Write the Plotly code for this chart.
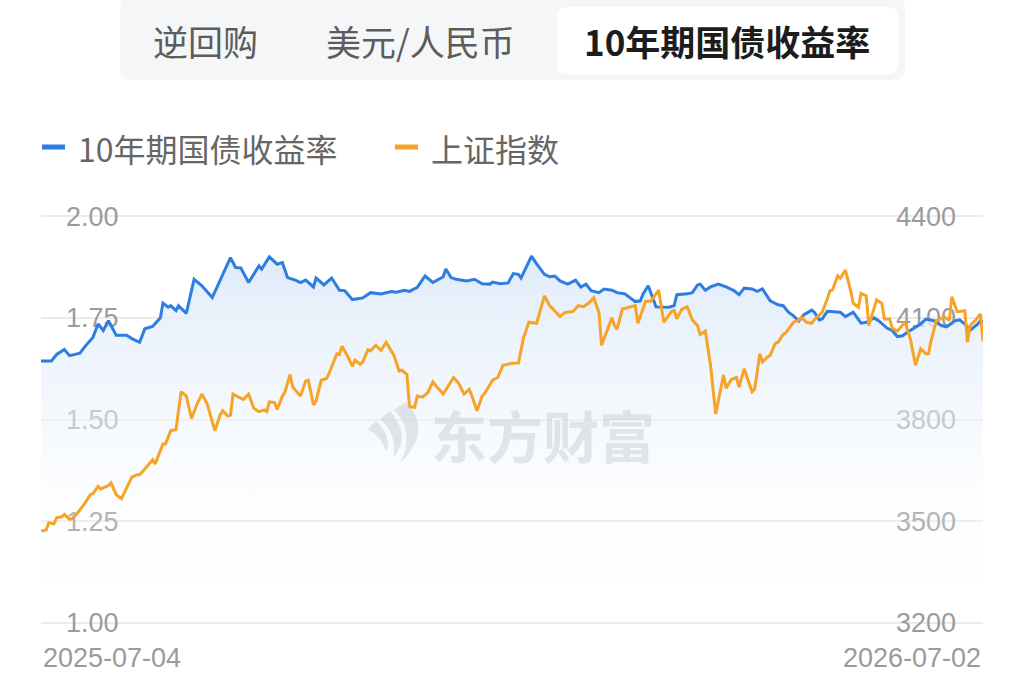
import pandas as pd
import plotly.graph_objects as go

start_date = pd.Timestamp("2025-07-04")

# 10年期国债收益率 (%), left axis; x = days after start_date
bond_days = [0, 4, 6, 9, 11, 15, 17, 20, 22, 24,
             26, 29, 33, 35, 38, 40, 43, 46, 47, 49,
             50, 52, 53, 56, 59, 62, 66, 70, 73, 75,
             77, 80, 84, 85, 88, 91, 93, 95, 98, 100,
             102, 105, 106, 109, 112, 115, 117, 120, 124, 127,
             131, 135, 137, 140, 142, 145, 148, 151, 155, 156,
             158, 160, 164, 167, 170, 173, 174, 177, 180, 182,
             184, 185, 187, 189, 191, 194, 196, 198, 200, 203,
             206, 208, 210, 212, 215, 217, 220, 222, 225, 229,
             231, 232, 234, 236, 237, 242, 244, 245, 249, 251,
             253, 254, 256, 258, 261, 264, 267, 269, 271, 274,
             276, 278, 281, 284, 286, 288, 290, 292, 294, 297,
             298, 300, 301, 303, 308, 310, 313, 316, 318, 321,
             323, 326, 328, 330, 332, 334, 336, 339, 341, 344,
             347, 349, 352, 354, 356, 358, 361, 362, 363]
bond_yield = [1.644, 1.644, 1.660, 1.672, 1.657, 1.663, 1.680, 1.702, 1.735, 1.719,
              1.743, 1.707, 1.707, 1.699, 1.690, 1.723, 1.729, 1.750, 1.786, 1.776,
              1.780, 1.768, 1.780, 1.761, 1.845, 1.829, 1.800, 1.857, 1.898, 1.874,
              1.873, 1.837, 1.878, 1.870, 1.900, 1.882, 1.886, 1.849, 1.843, 1.837,
              1.843, 1.826, 1.848, 1.831, 1.848, 1.818, 1.817, 1.795, 1.799, 1.812,
              1.809, 1.815, 1.813, 1.818, 1.815, 1.825, 1.853, 1.837, 1.851, 1.870,
              1.849, 1.845, 1.841, 1.845, 1.834, 1.833, 1.838, 1.834, 1.836, 1.859,
              1.857, 1.848, 1.874, 1.902, 1.883, 1.857, 1.851, 1.853, 1.841, 1.833,
              1.843, 1.826, 1.833, 1.817, 1.812, 1.821, 1.818, 1.812, 1.809, 1.790,
              1.792, 1.809, 1.829, 1.792, 1.777, 1.776, 1.780, 1.807, 1.809, 1.812,
              1.831, 1.833, 1.818, 1.826, 1.833, 1.826, 1.817, 1.807, 1.823, 1.821,
              1.815, 1.821, 1.792, 1.782, 1.780, 1.764, 1.755, 1.742, 1.758, 1.769,
              1.764, 1.745, 1.747, 1.766, 1.764, 1.753, 1.764, 1.737, 1.739, 1.750,
              1.742, 1.725, 1.719, 1.704, 1.706, 1.715, 1.723, 1.735, 1.747, 1.743,
              1.731, 1.728, 1.742, 1.745, 1.735, 1.719, 1.735, 1.743, 1.740]

# 上证指数, right axis
sh_days = [0, 2, 3, 5, 6, 8, 9, 11, 12, 14,
           17, 19, 20, 22, 23, 26, 27, 29, 31, 33,
           35, 37, 38, 40, 43, 44, 47, 48, 50, 52,
           54, 56, 58, 60, 62, 64, 67, 69, 70, 72,
           73, 74, 76, 78, 80, 82, 84, 86, 87, 88,
           90, 91, 93, 94, 96, 97, 98, 100, 102, 103,
           105, 106, 108, 110, 111, 114, 115, 116, 118, 120,
           121, 123, 124, 126, 127, 129, 131, 133, 136, 138,
           139, 141, 142, 144, 145, 147, 149, 151, 153, 155,
           159, 161, 163, 165, 166, 168, 170, 171, 174, 176,
           178, 181, 184, 186, 188, 191, 194, 196, 200, 202,
           205, 207, 209, 211, 213, 215, 216, 220, 221, 222,
           224, 229, 230, 233, 235, 238, 240, 243, 244, 245,
           247, 249, 251, 253, 254, 256, 258, 260, 263, 264,
           266, 268, 269, 271, 274, 275, 277, 278, 280, 281,
           283, 284, 286, 287, 289, 290, 292, 293, 295, 297,
           298, 300, 301, 303, 304, 305, 307, 308, 310, 312,
           313, 315, 316, 318, 319, 320, 322, 324, 325, 327,
           328, 330, 332, 333, 335, 337, 339, 341, 342, 343,
           345, 346, 348, 350, 351, 353, 354, 356, 357, 358,
           360, 362, 363]
sh_index = [3471, 3474, 3495, 3492, 3510, 3513, 3520, 3505, 3507, 3523,
            3554, 3578, 3581, 3603, 3595, 3605, 3613, 3578, 3566, 3598,
            3630, 3637, 3637, 3654, 3681, 3669, 3728, 3728, 3767, 3770,
            3882, 3869, 3803, 3843, 3875, 3847, 3767, 3813, 3826, 3810,
            3813, 3875, 3867, 3859, 3875, 3833, 3823, 3828, 3823, 3852,
            3850, 3830, 3869, 3881, 3933, 3896, 3887, 3869, 3914, 3916,
            3843, 3855, 3916, 3921, 3936, 3994, 3992, 4016, 3989, 3957,
            3975, 3963, 3970, 4006, 4003, 4019, 4004, 4028, 3989, 3943,
            3946, 3933, 3838, 3836, 3869, 3866, 3879, 3911, 3892, 3875,
            3924, 3906, 3875, 3889, 3871, 3826, 3869, 3877, 3916, 3924,
            3960, 3965, 3967, 4043, 4087, 4084, 4165, 4136, 4104, 4116,
            4119, 4136, 4133, 4143, 4159, 4116, 4019, 4100, 4077, 4067,
            4126, 4136, 4084, 4149, 4149, 4182, 4087, 4119, 4122, 4097,
            4126, 4133, 4094, 4077, 4051, 4061, 3960, 3816, 3931, 3892,
            3918, 3924, 3896, 3950, 3882, 3889, 3994, 3970, 3985, 3990,
            4025, 4028, 4051, 4056, 4077, 4087, 4094, 4102, 4087, 4084,
            4094, 4109, 4116, 4156, 4180, 4182, 4224, 4217, 4241, 4180,
            4143, 4131, 4172, 4165, 4077, 4102, 4153, 4143, 4097, 4097,
            4070, 4061, 4077, 4087, 4038, 3960, 4009, 3994, 3994, 4033,
            4092, 4094, 4104, 4092, 4162, 4119, 4119, 4121, 4028, 4077,
            4092, 4112, 4031]

tab_names = ["逆回购", "美元/人民币", "10年期国债收益率"]
legend_names = ["10年期国债收益率", "上证指数"]
yield_ticks = [1.00, 1.25, 1.50, 1.75, 2.00]
index_ticks = [3200, 3500, 3800, 4100, 4400]

BLUE = "#2e7de1"
ORANGE = "#f6a326"
AXIS_TXT = "#9b9b9b"
CJK = "Noto Sans CJK SC"

W, H = 1024, 686
ML, MR, MT, MB = 41, 41, 215, 62
PW, PH = W - ML - MR, H - MT - MB


def to_paper(x, y):
    # screen pixel -> paper coords, for the decoration around the plot
    return (x - ML) / PW, (H - MB - y) / PH


def pt(x, y):
    px_, py_ = to_paper(x, y)
    return f"{px_:.5f},{py_:.5f}"


def round_rect(x0, y0, x1, y1, r):
    return (f"M{pt(x0 + r, y0)} L{pt(x1 - r, y0)} Q{pt(x1, y0)} {pt(x1, y0 + r)} "
            f"L{pt(x1, y1 - r)} Q{pt(x1, y1)} {pt(x1 - r, y1)} L{pt(x0 + r, y1)} "
            f"Q{pt(x0, y1)} {pt(x0, y1 - r)} L{pt(x0, y0 + r)} Q{pt(x0, y0)} {pt(x0 + r, y0)} Z")


bond_x = start_date + pd.to_timedelta(bond_days, unit="D")
sh_x = start_date + pd.to_timedelta(sh_days, unit="D")

fig = go.Figure()
fig.add_trace(go.Scatter(
    x=bond_x, y=bond_yield, name=legend_names[0], mode="lines",
    line=dict(color=BLUE, width=3),
    fill="tozeroy",
    fillgradient=dict(type="vertical", start=1.0, stop=1.9,
                      colorscale=[[0, "rgba(255,255,255,0)"], [1, "rgba(222,234,249,0.95)"]]),
))
fig.add_trace(go.Scatter(
    x=sh_x, y=sh_index, name=legend_names[1], mode="lines", yaxis="y2",
    line=dict(color=ORANGE, width=3),
))

tick_font = dict(family="Liberation Sans, Arial", size=27, color=AXIS_TXT)

shapes = []
annotations = []

# tab bar on top
shapes.append(dict(type="path", xref="paper", yref="paper", layer="below",
                   path=round_rect(120, -4, 905, 80, 12),
                   fillcolor="#f5f6f8", line=dict(width=0)))
shapes.append(dict(type="path", xref="paper", yref="paper", layer="below",
                   path=round_rect(557, 7, 898, 74, 10),
                   fillcolor="white", line=dict(width=0)))
tab_centers = [205, 420, 727]
for i, (name, cx) in enumerate(zip(tab_names, tab_centers)):
    x, y = to_paper(cx, 41)
    selected = i == len(tab_names) - 1
    annotations.append(dict(
        x=x, y=y, xref="paper", yref="paper", showarrow=False,
        text=f"<b>{name}</b>" if selected else name,
        font=dict(family=CJK, size=35, color="#1c1c1c" if selected else "#5c5c5c"),
        xanchor="center", yanchor="middle"))

# legend
for name, color, x0 in zip(legend_names, [BLUE, ORANGE], [42, 395]):
    a = to_paper(x0, 147)
    b = to_paper(x0 + 23, 147)
    shapes.append(dict(type="line", xref="paper", yref="paper", x0=a[0], y0=a[1], x1=b[0], y1=b[1],
                       line=dict(color=color, width=5)))
    t = to_paper(x0 + 34, 148)
    annotations.append(dict(x=t[0], y=t[1], xref="paper", yref="paper", showarrow=False,
                            text=name, xanchor="left", yanchor="middle",
                            font=dict(family=CJK, size=32, color="#666666")))

# watermark
wm = "rgba(200,205,215,0.5)"
for path in [
    f"M{pt(406, 402)} Q{pt(433, 430)} {pt(401, 462)} Q{pt(415, 430)} {pt(394, 410)} Z",
    f"M{pt(390, 411)} Q{pt(412, 436)} {pt(393, 458)} Q{pt(398, 435)} {pt(380, 419)} Z",
    f"M{pt(376, 421)} Q{pt(393, 438)} {pt(386, 452)} Q{pt(383, 438)} {pt(368, 429)} Z",
]:
    shapes.append(dict(type="path", xref="paper", yref="paper", layer="above",
                       path=path, fillcolor=wm, line=dict(width=0)))
w = to_paper(543, 433)
annotations.append(dict(x=w[0], y=w[1], xref="paper", yref="paper", showarrow=False,
                        text="<b>东方财富</b>", xanchor="center", yanchor="middle",
                        font=dict(family=CJK, size=56, color=wm)))

# first / last date under the axis
for d, xa, anchor in [(bond_x[0], 0, "left"), (bond_x[-1], 1, "right")]:
    annotations.append(dict(x=xa, y=to_paper(0, 658)[1], xref="paper", yref="paper",
                            showarrow=False, text=d.strftime("%Y-%m-%d"),
                            xanchor=anchor, yanchor="middle",
                            font=dict(family="Liberation Sans, Arial", size=27, color=AXIS_TXT)))

# a hair of padding so the 1.00 / 2.00 grid lines are kept
pad_l = 0.003
pad_r = pad_l * (index_ticks[-1] - index_ticks[0]) / (yield_ticks[-1] - yield_ticks[0])

fig.update_layout(
    width=W, height=H,
    margin=dict(l=ML, r=MR, t=MT, b=MB),
    paper_bgcolor="white", plot_bgcolor="white",
    showlegend=False,
    font=dict(family=CJK),
    xaxis=dict(type="date", range=[bond_x[0], bond_x[-1]], showgrid=False,
               showticklabels=False, ticks="", zeroline=False, showline=False),
    yaxis=dict(range=[yield_ticks[0] - pad_l, yield_ticks[-1] + pad_l], tickvals=yield_ticks,
               tickformat=".2f", showgrid=True, gridcolor="#ebebeb", gridwidth=1.5,
               zeroline=False, showline=False, ticks="", ticklabelposition="inside",
               ticklabelstandoff=22, ticklabeloverflow="allow",
               tickfont=tick_font, layer="below traces"),
    yaxis2=dict(range=[index_ticks[0] - pad_r, index_ticks[-1] + pad_r], tickvals=index_ticks,
                tickformat="d", overlaying="y", side="right", showgrid=False, zeroline=False,
                showline=False, ticks="", ticklabelposition="inside", ticklabelstandoff=24,
                ticklabeloverflow="allow", tickfont=tick_font, layer="below traces"),
    shapes=shapes,
    annotations=annotations,
)

# the page's default 8px body margin would shift the whole figure
fig.write_html("out.html", config={"displayModeBar": False},
               post_script="document.body.style.margin='0';")
